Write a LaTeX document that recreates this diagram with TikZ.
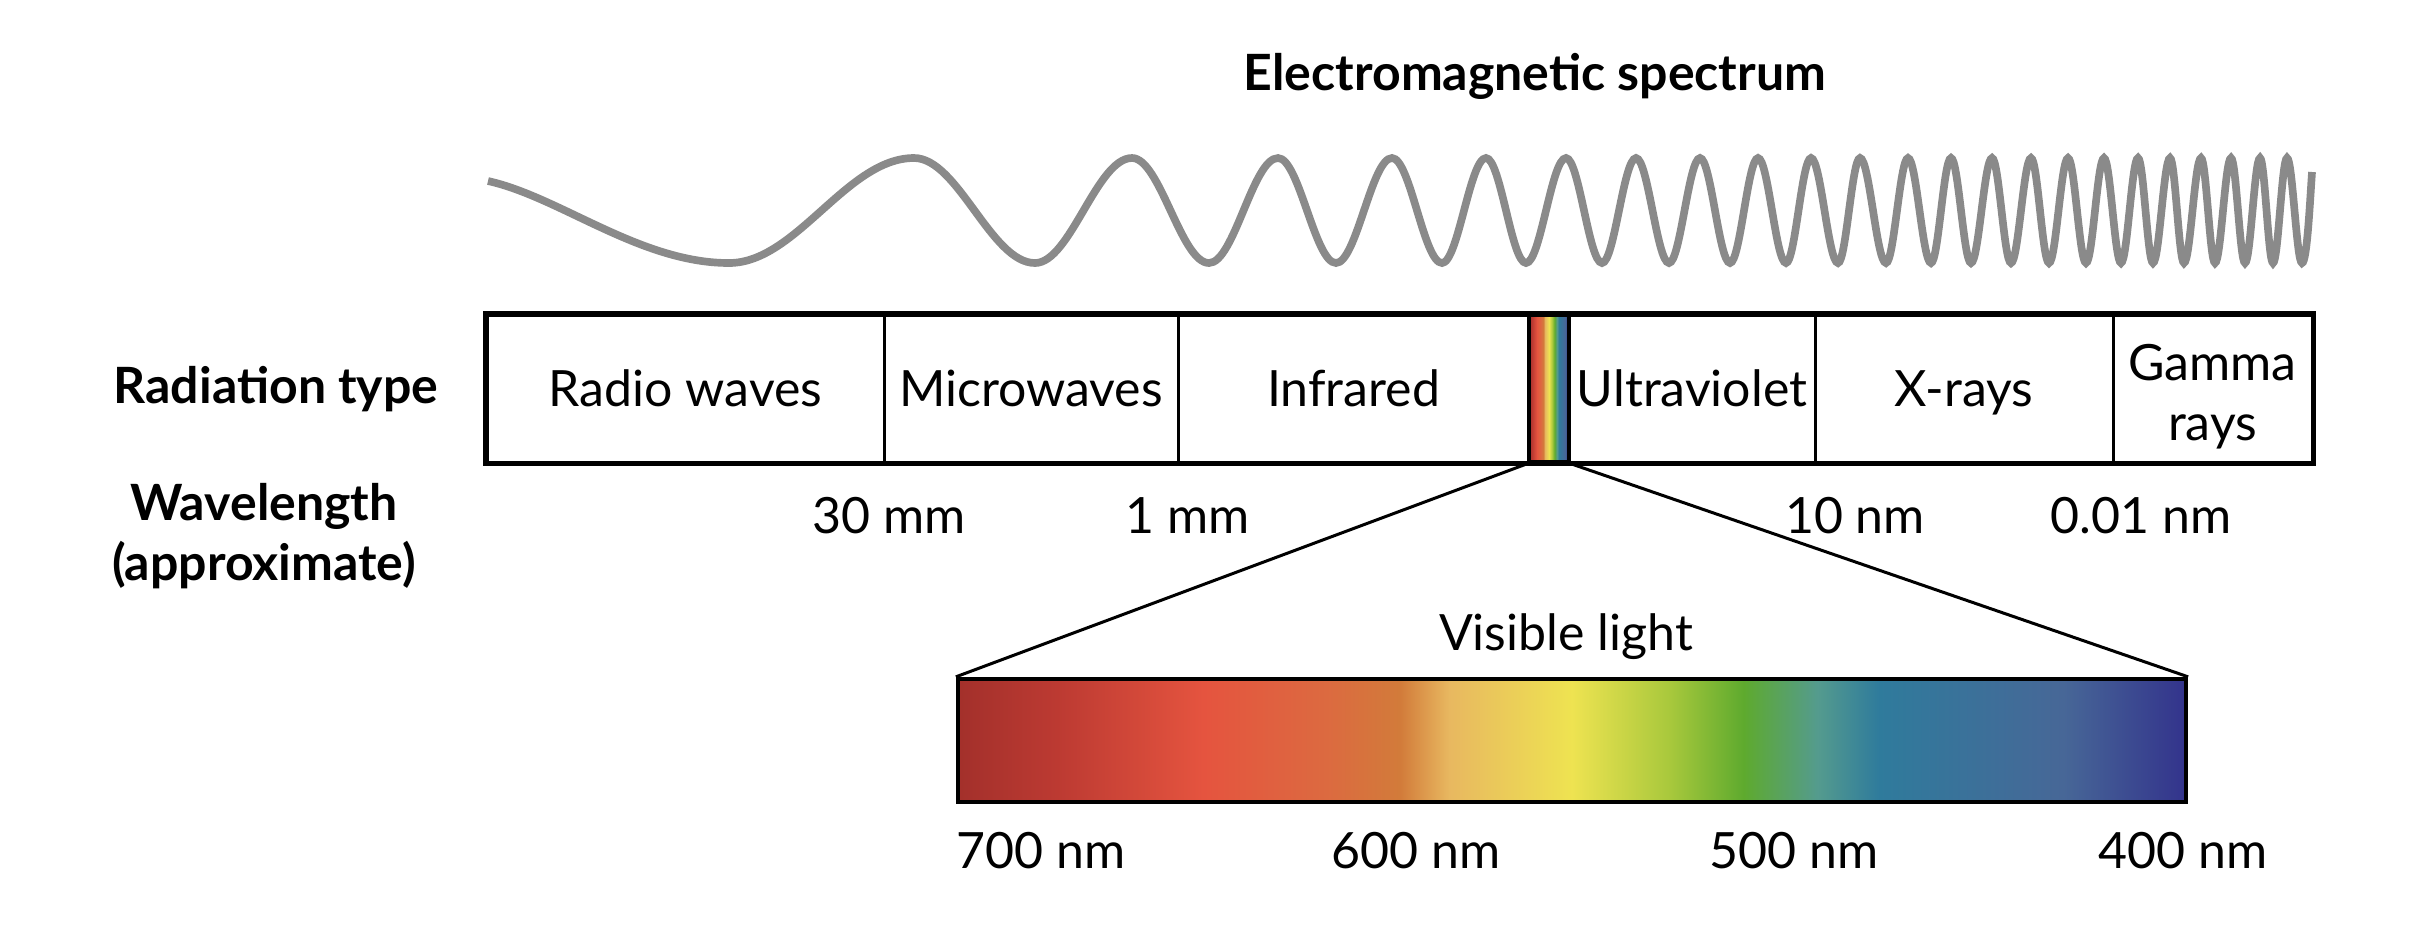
\documentclass[tikz,border=0pt]{standalone}
\usepackage{fontspec}
\setmainfont{Lato}
\definecolor{wavegray}{HTML}{8A8A8A}
\definecolor{vA}{HTML}{A3302B}
\definecolor{vB}{HTML}{BC3A32}
\definecolor{vC}{HTML}{E5543F}
\definecolor{vD}{HTML}{DC6A40}
\definecolor{vE}{HTML}{D27B3A}
\definecolor{vF}{HTML}{E8B860}
\definecolor{vG}{HTML}{EEE351}
\definecolor{vH}{HTML}{A8C83C}
\definecolor{vI}{HTML}{5EAA2E}
\definecolor{vJ}{HTML}{549B8E}
\definecolor{vK}{HTML}{2F7B9C}
\definecolor{vL}{HTML}{476797}
\definecolor{vM}{HTML}{33338C}
\pgfdeclarehorizontalshading{visspec}{100bp}{color(0bp)=(vA); color(25bp)=(vA); color(29bp)=(vB); color(35bp)=(vC); color(40bp)=(vD); color(43bp)=(vE); color(45bp)=(vF); color(50bp)=(vG); color(54bp)=(vH); color(57bp)=(vI); color(60bp)=(vJ); color(62.5bp)=(vK); color(70bp)=(vL); color(75bp)=(vM); color(100bp)=(vM)}
\newcommand\lblfont{\fontsize{15}{18}\selectfont}
\newcommand\hdfont{\fontsize{15}{18}\selectfont\bfseries}
\begin{document}
\begin{tikzpicture}[x=0.3pt,y=-0.3pt,
  wave/.style={draw=wavegray, line width=2.3pt},
  cell/.style={draw=black, line width=0.9pt, minimum height=44.1pt, inner sep=0pt, font=\lblfont, text height=11pt, text depth=0.5pt},
  lbl/.style={font=\lblfont, anchor=base, inner sep=0pt},
  head/.style={font=\hdfont, anchor=base, inner sep=0pt},
  conn/.style={draw=black, line width=0.9pt}]
\useasboundingbox (0,0) rectangle (2431,924);

\node[head] (title) at (1535,90) {Electromagnetic spectrum};

\draw[wave] (488,181) .. controls (560,197) and (640,263) .. (729,263)
  foreach \a/\ya/\b/\yb in {729/263/914/158, 914/158/1035/263, 1035/263/1132/158, 1132/158/1209/263, 1209/263/1278/158, 1278/158/1336/263, 1336/263/1392/158, 1392/158/1442/263, 1442/263/1486/158, 1486/158/1526/263, 1526/263/1566/158, 1566/158/1602/263, 1602/263/1636/158, 1636/158/1669/263, 1669/263/1700/158, 1700/158/1730/263, 1730/263/1758/158, 1758/158/1786/263, 1786/263/1811/158, 1811/158/1838/263, 1838/263/1860/158, 1860/158/1886/263, 1886/263/1908/158, 1908/158/1931/263, 1931/263/1951/158, 1951/158/1971/263, 1971/263/1992/158, 1992/158/2011/263, 2011/263/2031/158, 2031/158/2049/263, 2049/263/2068/158, 2068/158/2086/263, 2086/263/2104/158, 2104/158/2121/263, 2121/263/2138/158, 2138/158/2153/263, 2153/263/2170/158, 2170/158/2184/263, 2184/263/2201/158, 2201/158/2215/263, 2215/263/2231/158, 2231/158/2245/263, 2245/263/2260/158, 2260/158/2273/263, 2273/263/2287/158, 2287/158/2302/263}
  { .. controls ({\a+0.364*(\b-\a)},\ya) and ({\b-0.364*(\b-\a)},\yb) .. (\b,\yb) }
  .. controls (2307,263) and (2310,200) .. (2312,172);

\node[head] (radlabel) at (276,403) {Radiation type};
\node[font=\hdfont, align=center, inner sep=0pt] (wavelabel) at (264,536) {Wavelength\\(approximate)};

\node[cell, minimum width=119.1pt] (radio) at (685.5,388.5) {Radio waves};
\node[cell, minimum width=88.2pt] (micro) at (1031,388.5) {Microwaves};
\node[cell, minimum width=105.3pt] (ir) at (1353.5,388.5) {Infrared};
\node[cell, minimum width=73.8pt] (uv) at (1692,388.5) {Ultraviolet};
\node[cell, minimum width=89.4pt] (xray) at (1964,388.5) {X-rays};
\node[cell, minimum width=59.7pt] (gamma) at (2212.5,388.5) {};
\node[font=\lblfont, align=center, inner sep=0pt] (gammatxt) at (2212.5,397) {Gamma\\rays};
\node[cell, minimum width=12pt, line width=1pt, shade, shading=visspec] (vis) at (1549,388.5) {};
\draw[line width=1.3pt] (radio.north west) rectangle (gamma.south east);

\node[lbl] (w30) at (889,533) {30 mm};
\node[lbl] (w1) at (1188,533) {1 mm};
\node[lbl] (w10) at (1855,533) {10 nm};
\node[lbl] (w001) at (2141,533) {0.01 nm};

\node[lbl] (vislabel) at (1566,650) {Visible light};
\node[draw=black, line width=1.3pt, shade, shading=visspec, minimum width=368.4pt, minimum height=36.9pt, inner sep=0pt] (spec) at (1572,740.5) {};
\draw[conn] (vis.south west) -- (spec.north west);
\draw[conn] (vis.south east) -- (spec.north east);

\node[lbl] (n700) at (1041,868) {700 nm};
\node[lbl] (n600) at (1416,868) {600 nm};
\node[lbl] (n500) at (1794,868) {500 nm};
\node[lbl] (n400) at (2183,868) {400 nm};
\end{tikzpicture}
\end{document}
